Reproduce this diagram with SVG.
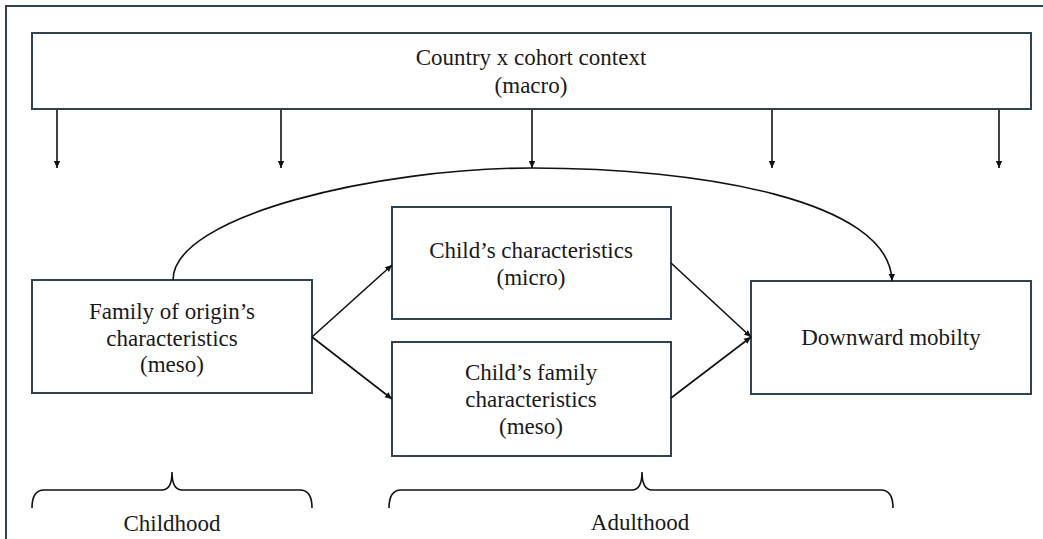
<svg xmlns="http://www.w3.org/2000/svg" width="1043" height="539" viewBox="0 0 1043 539">
<defs>
<marker id="ah" markerWidth="8" markerHeight="8" refX="7" refY="4" orient="auto" markerUnits="userSpaceOnUse">
<path d="M0,0.8 L7,4 L0,7.2 Z" fill="#111"/>
</marker>
<style>
.box{fill:#fff;stroke:#2f4352;stroke-width:2}
.t{font-family:"Liberation Serif","Times New Roman",serif;font-size:23px;fill:#1a1a1a;text-anchor:middle}
.c{fill:none;stroke:#111;stroke-width:1.6}
.br{fill:none;stroke:#111;stroke-width:1.6}
</style>
</defs>
<rect width="1043" height="539" fill="#fff"/>
<path d="M6,539 L6,6 L1043,6" fill="none" stroke="#2f4352" stroke-width="2"/>

<g id="macro">
<rect class="box" x="32" y="33" width="999" height="76"/>
<text class="t" x="531" y="65">Country x cohort context</text>
<text class="t" x="531" y="93">(macro)</text>
</g>

<g id="family-origin">
<rect class="box" x="32" y="280" width="280" height="113"/>
<text class="t" x="172" y="319">Family of origin’s</text>
<text class="t" x="172" y="346">characteristics</text>
<text class="t" x="172" y="372">(meso)</text>
</g>

<g id="child-char">
<rect class="box" x="392" y="207" width="279" height="112"/>
<text class="t" x="531" y="258">Child’s characteristics</text>
<text class="t" x="531" y="285">(micro)</text>
</g>

<g id="child-family">
<rect class="box" x="392" y="342" width="279" height="114"/>
<text class="t" x="531" y="380">Child’s family</text>
<text class="t" x="531" y="407">characteristics</text>
<text class="t" x="531" y="434">(meso)</text>
</g>

<g id="downward">
<rect class="box" x="751" y="281" width="280" height="113"/>
<text class="t" x="891" y="345">Downward mobilty</text>
</g>

<g id="connectors">
<line class="c" x1="57" y1="110" x2="57" y2="168" marker-end="url(#ah)"/>
<line class="c" x1="281" y1="110" x2="281" y2="168" marker-end="url(#ah)"/>
<line class="c" x1="532" y1="110" x2="532" y2="168" marker-end="url(#ah)"/>
<line class="c" x1="772" y1="110" x2="772" y2="168" marker-end="url(#ah)"/>
<line class="c" x1="999" y1="110" x2="999" y2="168" marker-end="url(#ah)"/>
<path class="c" d="M173,280 C173,215 380,168 532,168 C700,168 890,200 892,281" marker-end="url(#ah)"/>
<line class="c" x1="312" y1="337" x2="392" y2="265" marker-end="url(#ah)"/>
<line class="c" x1="312" y1="337" x2="392" y2="399" marker-end="url(#ah)"/>
<line class="c" x1="671" y1="263" x2="751" y2="337" marker-end="url(#ah)"/>
<line class="c" x1="671" y1="398" x2="751" y2="337" marker-end="url(#ah)"/>
</g>

<g id="childhood">
<path class="br" d="M32,508 Q32,490 44,490 L162,490 Q172,490 172,472 Q172,490 182,490 L300,490 Q312,490 312,508"/>
<text class="t" x="172" y="531">Childhood</text>
</g>

<g id="adulthood">
<path class="br" d="M389,508 Q389,490 401,490 L632,490 Q642,490 642,472 Q642,490 652,490 L881,490 Q893,490 893,508"/>
<text class="t" x="640" y="530">Adulthood</text>
</g>
</svg>
